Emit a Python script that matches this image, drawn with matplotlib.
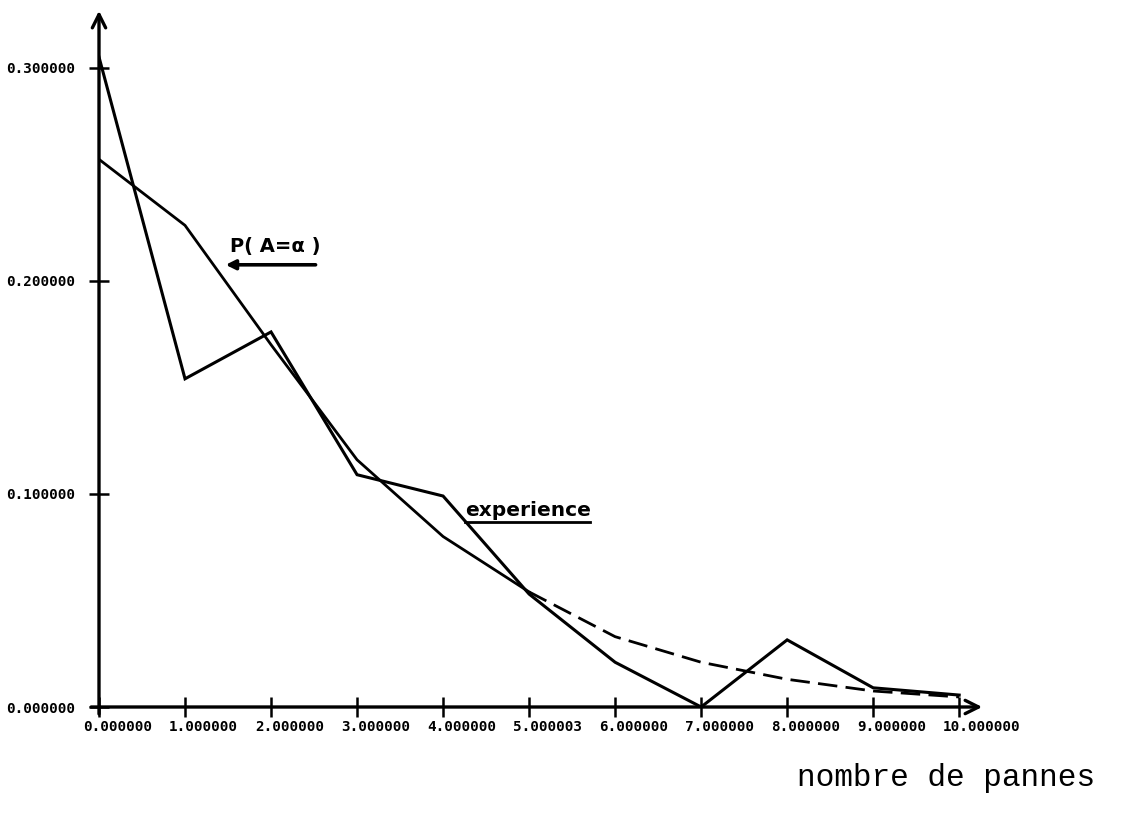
import matplotlib
matplotlib.use('Agg')
import matplotlib.pyplot as plt
import matplotlib.transforms as mtransforms

# nombre de pannes
pannes = [0, 1, 2, 3, 4, 5, 6, 7, 8, 9, 10]
# courbe experimentale
experience = [0.305, 0.154, 0.176, 0.109, 0.099, 0.053, 0.021, 0.000, 0.0315, 0.009, 0.0056]
# loi theorique P(A = alpha)
theorie = [0.257, 0.226, 0.170, 0.116, 0.080, 0.054, 0.033, 0.021, 0.013, 0.0075, 0.0047]

xticks = [0, 1, 2, 3, 4, 5, 6, 7, 8, 9, 10]
xlabels = ['0.000000', '1.000000', '2.000000', '3.000000', '4.000000', '5.000003',
           '6.000000', '7.000000', '8.000000', '9.000000', '10.000000']
yticks = [0.0, 0.1, 0.2, 0.3]
ylabels = ['0.000000', '0.100000', '0.200000', '0.300000']

fig = plt.figure(figsize=(11.48, 8.13), dpi=100)
ax = fig.add_axes([99 / 1148, 1 - 707 / 813, (985 - 99) / 1148, (707 - 8) / 813])
ax.set_xlim(0, 10.3)
ax.set_ylim(0, 0.328)

# courbes
ax.plot(pannes, experience, color='black', lw=2.2, solid_joinstyle='miter')
ax.plot(pannes[:6], theorie[:6], color='black', lw=2.0)
ax.plot(pannes[5:], theorie[5:], color='black', lw=2.0, dashes=(7, 3))

# axes avec fleches
for s in ax.spines.values():
    s.set_visible(False)
ax.annotate('', xy=(1, 0), xytext=(-0.012, 0), xycoords='axes fraction',
            arrowprops=dict(arrowstyle='->', lw=2.4, color='black', mutation_scale=24))
ax.annotate('', xy=(0, 1), xytext=(0, -0.014), xycoords='axes fraction',
            arrowprops=dict(arrowstyle='->', lw=2.4, color='black', mutation_scale=24))

ax.set_xticks(xticks)
ax.set_xticklabels(xlabels)
ax.set_yticks(yticks)
ax.set_yticklabels(ylabels)
ax.tick_params(direction='inout', length=14, width=1.8, colors='black')
ax.tick_params(axis='x', pad=2)
ax.tick_params(axis='y', pad=10)
for lab in ax.get_xticklabels() + ax.get_yticklabels():
    lab.set_fontfamily('DejaVu Sans Mono')
    lab.set_fontweight('bold')
    lab.set_fontsize(10.3)
offset = mtransforms.ScaledTranslation(-0.16, 0, fig.dpi_scale_trans)
for lab in ax.get_xticklabels():
    lab.set_horizontalalignment('left')
    lab.set_transform(lab.get_transform() + offset)

# annotations
ax.text(1.523, 0.2135, 'P( A=\u03b1 )', fontsize=14, fontweight='bold',
        family='DejaVu Sans', va='baseline')
ax.annotate('', xy=(1.44, 0.2075), xytext=(2.55, 0.2075),
            arrowprops=dict(arrowstyle='-|>', lw=2.6, color='black', mutation_scale=14))
ax.text(4.256, 0.0897, 'experience', fontsize=14.5, fontweight='bold',
        family='DejaVu Sans', va='baseline')
ax.plot([4.256, 5.709], [0.0869, 0.0869], color='black', lw=2.0)

fig.text(797 / 1148, 1 - 786 / 813, 'nombre de pannes', fontsize=22.4,
         family='Liberation Mono', va='baseline')

plt.savefig('out.png', dpi=100)
